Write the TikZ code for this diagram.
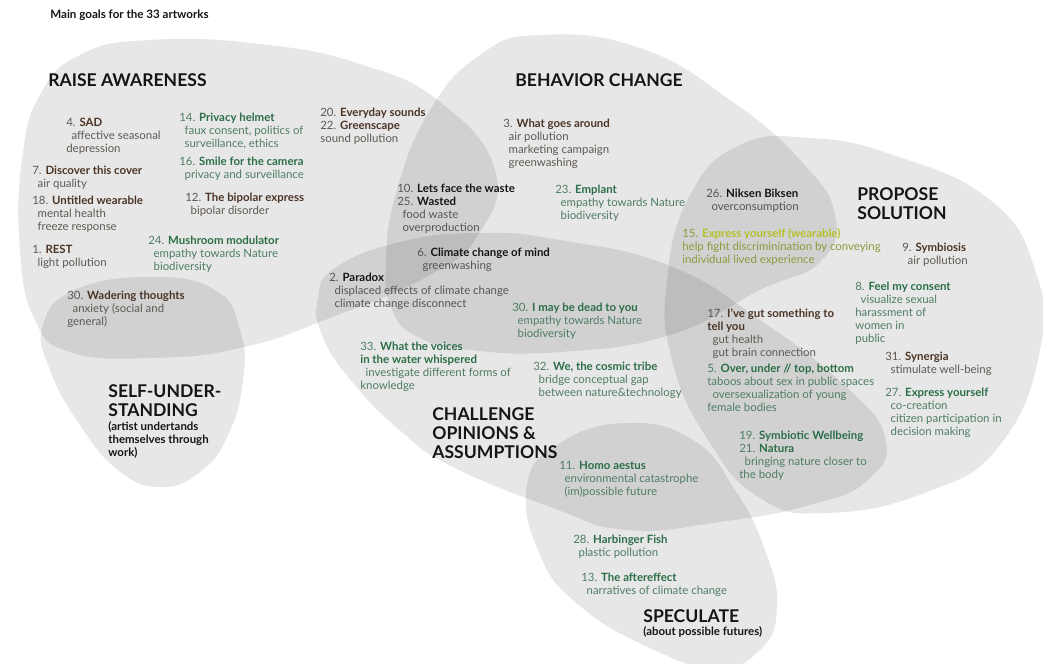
\documentclass[tikz,border=0pt]{standalone}
\usepackage{fontspec}
\setmainfont{Lato}
\definecolor{ttlbrown}{HTML}{4A3426}
\definecolor{txtbrown}{HTML}{5E5852}
\definecolor{ttlgreen}{HTML}{2B6E48}
\definecolor{txtgreen}{HTML}{4E7D62}
\definecolor{ttlblack}{HTML}{151515}
\definecolor{txtblack}{HTML}{555555}
\definecolor{ttlolive}{HTML}{B4C028}
\definecolor{txtolive}{HTML}{8B9A3C}
\newcommand\ttl[1]{{\bfseries\color{ttl}#1}}
\newcommand\ind{\hspace*{3pt}}
\begin{document}
\begin{tikzpicture}[x=0.02cm,y=-0.02cm,font=\fontsize{6.5}{7.4}\selectfont,
	blob/.style={fill=black,fill opacity=0.095},
	goal/.style={anchor=north west,inner sep=0pt,align=left,text=ttlblack,font=\fontsize{10}{10.8}\selectfont\bfseries},
	goalsub/.style={anchor=north west,inner sep=0pt,align=left,text=ttlblack,font=\fontsize{6.5}{7.4}\selectfont\bfseries},
	work/.style={anchor=north west,inner sep=0pt,align=left},
	brownwork/.style={work,text=txtbrown,execute at begin node={\colorlet{ttl}{ttlbrown}}},
	greenwork/.style={work,text=txtgreen,execute at begin node={\colorlet{ttl}{ttlgreen}}},
	blackwork/.style={work,text=txtblack,execute at begin node={\colorlet{ttl}{ttlblack}}},
	olivework/.style={work,text=txtolive,execute at begin node={\colorlet{ttl}{ttlolive}}}]
	\useasboundingbox (0,0) rectangle (1043,663);
	\begin{scope}
		\clip (0,0) rectangle (1043,663);
		% raise awareness
		\fill[blob] plot[smooth cycle,tension=0.8] coordinates {(150,40) (260,44) (360,64) (440,102) (495,170) (478,235) (430,275) (330,318) (240,348) (150,358) (70,352) (35,320) (20,250) (22,160) (40,95) (80,55)};
		% behavior change
		\fill[blob] plot[smooth cycle,tension=0.8] coordinates {(540,35) (640,48) (730,100) (800,160) (835,215) (820,262) (760,290) (670,335) (560,352) (470,350) (420,338) (392,310) (386,260) (397,190) (430,110) (480,55)};
		% propose solution
		\fill[blob] plot[smooth cycle,tension=0.8] coordinates {(740,145) (810,138) (893,155) (990,200) (1035,270) (1040,350) (1000,445) (927,492) (827,513) (760,498) (708,440) (672,360) (667,280) (690,195)};
		% challenge
		\fill[blob] plot[smooth cycle,tension=0.8] coordinates {(335,268) (400,242) (480,233) (560,240) (670,266) (760,320) (843,384) (885,437) (868,480) (810,505) (720,522) (627,530) (553,508) (453,467) (403,433) (353,383) (322,335) (318,298)};
		% self-understanding
		\fill[blob] plot[smooth cycle,tension=0.8] coordinates {(150,277) (215,290) (240,330) (243,380) (228,435) (200,472) (160,487) (118,470) (80,425) (50,370) (43,325) (75,290)};
		% speculate
		\fill[blob] plot[smooth cycle,tension=0.8] coordinates {(527,485) (560,443) (627,423) (693,440) (735,490) (765,550) (777,607) (760,650) (715,668) (650,648) (580,606) (540,555)};
	\end{scope}
	\node[anchor=north west,inner sep=0pt,text=ttlblack,font=\fontsize{6.6}{8}\selectfont\bfseries] (header) at (50,10) {Main goals for the 33 artworks};
	\node[goal] (awareness) at (48,73) {RAISE AWARENESS};
	\node[goal] (behavior) at (515,73) {BEHAVIOR CHANGE};
	\node[goal] (solution) at (857,187) {PROPOSE\\SOLUTION};
	\node[goal] (selfund) at (108,384) {SELF-UNDER-\\STANDING};
	\node[goalsub] (selfundsub) at (108,421) {(artist undertands\\themselves through\\work)};
	\node[goal] (challenge) at (432,407) {CHALLENGE\\OPINIONS \&\\ASSUMPTIONS};
	\node[goal] (speculate) at (643,609) {SPECULATE};
	\node[goalsub] (speculatesub) at (643,626) {(about possible futures)};
	% raise awareness
	\node[brownwork] (sad) at (66,118) {4. \ttl{SAD}\\\ind affective seasonal\\depression};
	\node[brownwork] (cover) at (32,166) {7. \ttl{Discover this cover}\\\ind air quality};
	\node[brownwork] (untitled) at (32,196) {18. \ttl{Untitled wearable}\\\ind mental health\\\ind freeze response};
	\node[brownwork] (rest) at (32,245) {1. \ttl{REST}\\\ind light pollution};
	\node[greenwork] (helmet) at (179,113) {14. \ttl{Privacy helmet}\\\ind faux consent, politics of\\\ind surveillance, ethics};
	\node[greenwork] (smile) at (179,157) {16. \ttl{Smile for the camera}\\\ind privacy and surveillance};
	\node[brownwork] (bipolar) at (185,193) {12. \ttl{The bipolar express}\\\ind bipolar disorder};
	\node[greenwork] (mushroom) at (148,236) {24. \ttl{Mushroom modulator}\\\ind empathy towards Nature\\\ind biodiversity};
	\node[brownwork] (wander) at (67,291) {30. \ttl{Wadering thoughts}\\\ind anxiety (social and\\general)};
	% behavior change
	\node[brownwork] (sounds) at (320,108) {20. \ttl{Everyday sounds}\\22. \ttl{Greenscape}\\sound pollution};
	\node[brownwork] (around) at (503,119) {3. \ttl{What goes around}\\\ind air pollution\\\ind marketing campaign\\\ind greenwashing};
	\node[blackwork] (waste) at (397,184) {10. \ttl{Lets face the waste}\\25. \ttl{Wasted}\\\ind food waste\\\ind overproduction};
	\node[greenwork] (emplant) at (555,185) {23. \ttl{Emplant}\\\ind empathy towards Nature\\\ind biodiversity};
	\node[blackwork] (mind) at (417,248) {6. \ttl{Climate change of mind}\\\ind greenwashing};
	\node[blackwork] (paradox) at (329,273) {2. \ttl{Paradox}\\\ind displaced effects of climate change\\\ind climate change disconnect};
	\node[greenwork] (dead) at (512,303) {30. \ttl{I may be dead to you}\\\ind empathy towards Nature\\\ind biodiversity};
	% propose solution
	\node[blackwork] (niksen) at (706,189) {26. \ttl{Niksen Biksen}\\\ind overconsumption};
	\node[olivework] (wearable) at (682,228) {15. \ttl{Express yourself (wearable)}\\help fight discriminination by conveying\\individual lived experience};
	\node[brownwork] (symbiosis) at (902,243) {9. \ttl{Symbiosis}\\\ind air pollution};
	\node[greenwork] (consent) at (855,282) {8. \ttl{Feel my consent}\\\ind visualize sexual\\harassment of\\women in\\public};
	\node[brownwork] (gut) at (707,308) {17. \ttl{I've gut something to}\\\ttl{tell you}\\\ind gut health\\\ind gut brain connection};
	\node[greenwork] (over) at (707,364) {5. \ttl{Over, under // top, bottom}\\taboos about sex in public spaces\\\ind oversexualization of young\\female bodies};
	\node[brownwork] (synergia) at (885,352) {31. \ttl{Synergia}\\\ind stimulate well-being};
	\node[greenwork] (express) at (885,388) {27. \ttl{Express yourself}\\\ind co-creation\\\ind citizen participation in\\\ind decision making};
	\node[greenwork] (natura) at (739,431) {19. \ttl{Symbiotic Wellbeing}\\21. \ttl{Natura}\\\ind bringing nature closer to\\the body};
	% challenge, speculate
	\node[greenwork] (voices) at (360,342) {33. \ttl{What the voices}\\\ttl{in the water whispered}\\\ind investigate different forms of\\knowledge};
	\node[greenwork] (tribe) at (533,362) {32. \ttl{We, the cosmic tribe}\\\ind bridge conceptual gap\\\ind between nature\&technology};
	\node[greenwork] (homo) at (559,461) {11. \ttl{Homo aestus}\\\ind environmental catastrophe\\\ind (im)possible future};
	\node[greenwork] (fish) at (573,535) {28. \ttl{Harbinger Fish}\\\ind plastic pollution};
	\node[greenwork] (after) at (581,573) {13. \ttl{The aftereffect}\\\ind narratives of climate change};
\end{tikzpicture}
\end{document}
